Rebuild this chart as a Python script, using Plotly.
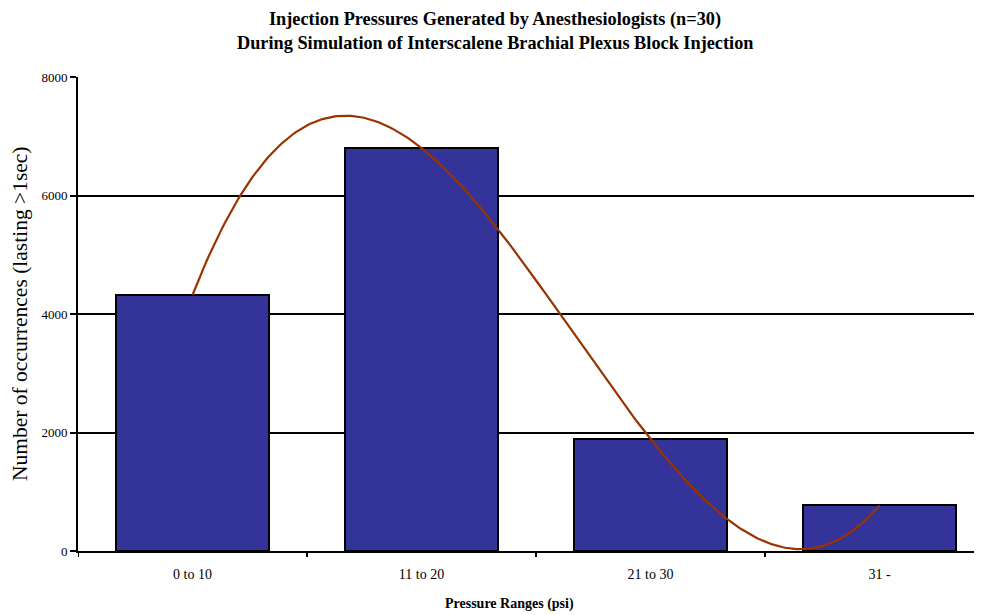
import numpy as np
import plotly.graph_objects as go

categories = ["0 to 10", "11 to 20", "21 to 30", "31 -"]
occurrences = [4320, 6800, 1890, 770]
y_ticks = [0, 2000, 4000, 6000, 8000]

xpos = np.arange(len(categories))
# 3rd-order polynomial trendline of the bar values (as in the original chart)
coef = np.polyfit(xpos, occurrences, 3)
xt = np.linspace(0, len(categories) - 1, 300)
yt = np.polyval(coef, xt)

serif = "Liberation Serif, Times New Roman, serif"
OFF = 8  # default page body margin
W, H = 982 - OFF, 615 - OFF
L, R, T, B = 78 - OFF, 0, 77 - OFF, 64
PW, PH = W - L - R, H - T - B

def px_x(p):  # page pixel -> paper
    return (p - OFF - L) / PW

def px_y(p):
    return (H - B - (p - OFF)) / PH

fig = go.Figure()
fig.add_trace(go.Bar(
    x=xpos, y=occurrences, width=0.67,
    marker=dict(color="#333399", line=dict(color="black", width=2)),
    showlegend=False, hoverinfo="y",
))
fig.add_trace(go.Scatter(
    x=xt, y=yt, mode="lines",
    line=dict(color="#993300", width=2.2),
    showlegend=False, hoverinfo="skip",
))

fig.update_layout(
    width=W, height=H,
    margin=dict(l=L, r=R, t=T, b=B),
    paper_bgcolor="white", plot_bgcolor="white",
    font=dict(family=serif, color="black"),
    bargap=0,
    annotations=[
        dict(text="<b>Injection Pressures Generated by Anesthesiologists (n=30)</b>",
             x=px_x(494.5), y=px_y(19.5), xref="paper", yref="paper",
             xanchor="center", yanchor="middle", showarrow=False,
             font=dict(size=18.3, family=serif)),
        dict(text="<b>During Simulation of Interscalene Brachial Plexus Block Injection</b>",
             x=px_x(494.5), y=px_y(43), xref="paper", yref="paper",
             xanchor="center", yanchor="middle", showarrow=False,
             font=dict(size=18.3, family=serif)),
        dict(text="<b>Pressure Ranges (psi)</b>",
             x=px_x(509.5), y=px_y(604), xref="paper", yref="paper",
             xanchor="center", yanchor="middle", showarrow=False,
             font=dict(size=14, family=serif)),
        dict(text="Number of occurrences (lasting >1sec)",
             x=px_x(20), y=px_y(314), xref="paper", yref="paper",
             xanchor="center", yanchor="middle", showarrow=False, textangle=-90,
             font=dict(size=21.5, family=serif)),
    ],
)

fig.update_xaxes(
    range=[-0.5, 3.5 - 12 / 229],
    tickmode="array", tickvals=list(xpos), ticktext=categories,
    tickfont=dict(size=14, family=serif),
    showgrid=False, zeroline=False, automargin=False,
    showline=True, linecolor="black", linewidth=2,
    ticks="", ticklabelstandoff=9,
)
fig.update_yaxes(
    range=[0, 8000],
    tickmode="array", tickvals=y_ticks, ticktext=[str(v) for v in y_ticks],
    tickfont=dict(size=13, family=serif),
    showgrid=True, gridcolor="black", gridwidth=2,
    zeroline=False, automargin=False,
    showline=True, linecolor="black", linewidth=2,
    ticks="outside", ticklen=6, tickwidth=2, tickcolor="black",
)

# category boundary tick marks on x axis
for b in [-0.5, 0.5, 1.5, 2.5]:
    fig.add_shape(type="line", xref="x", yref="paper", x0=b, x1=b, y0=0, y1=-6 / PH,
                  line=dict(color="black", width=2))

fig.write_html("out.html")
